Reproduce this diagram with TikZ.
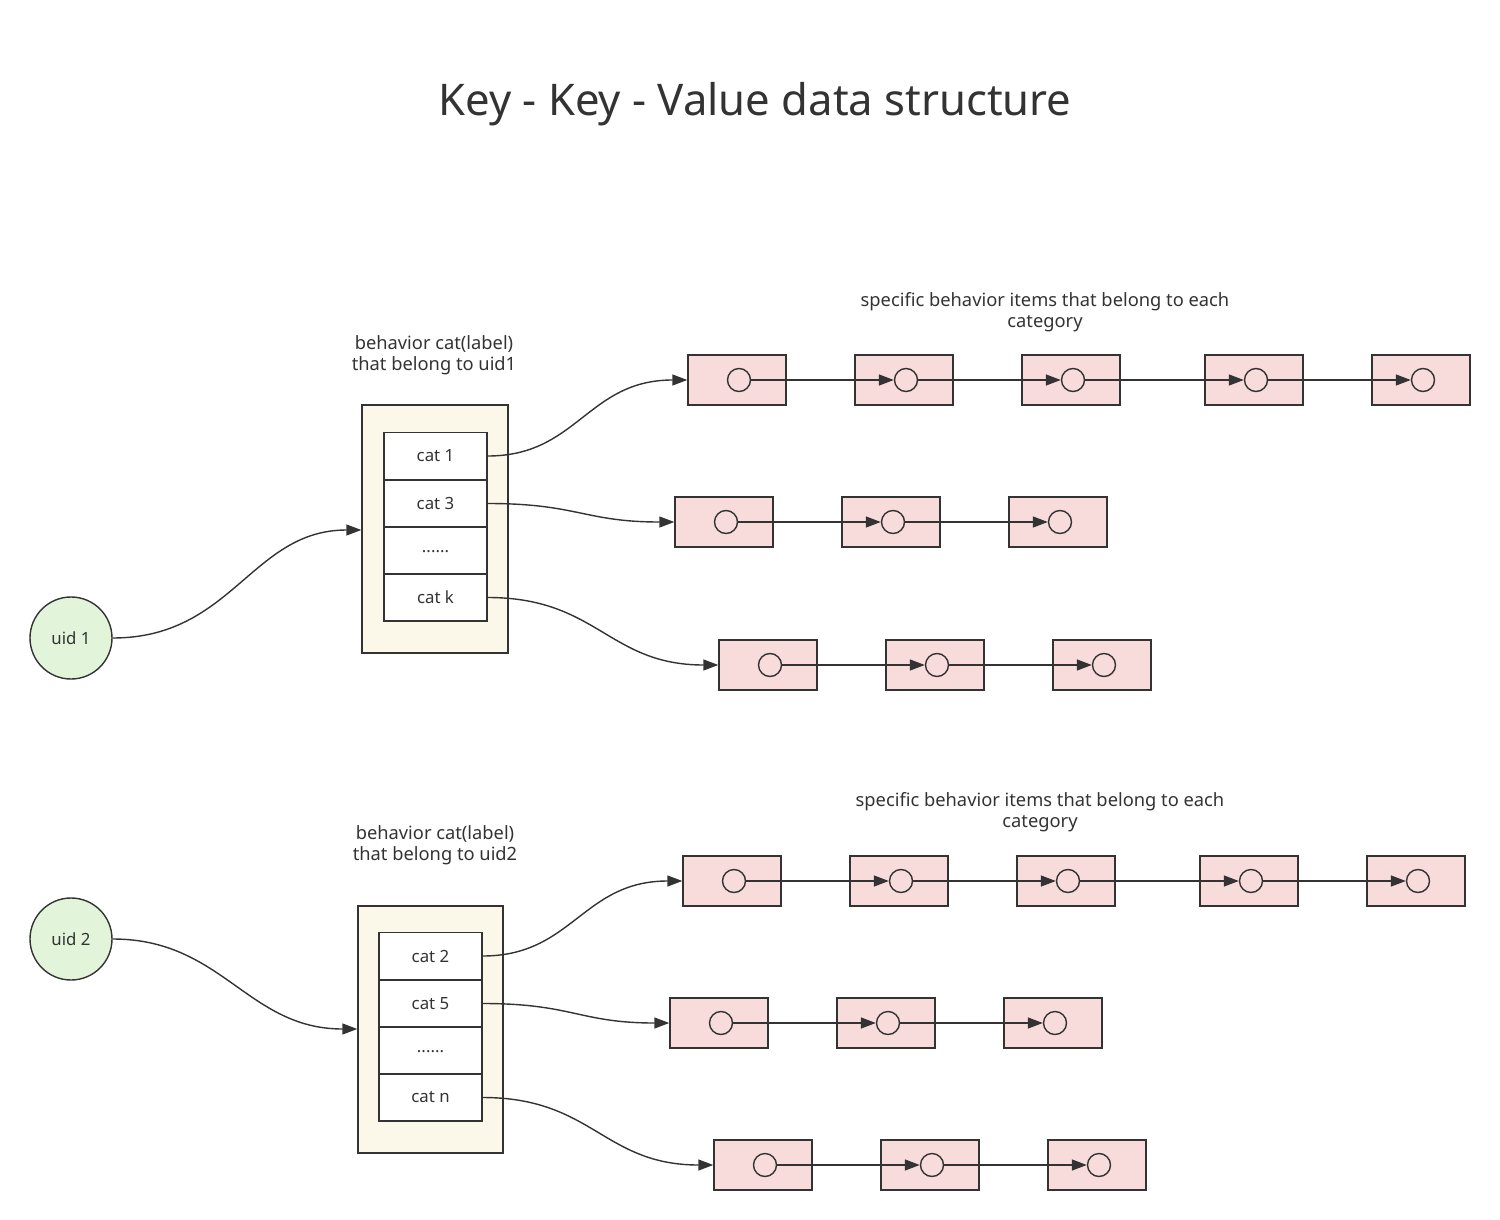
\documentclass[tikz,border=0pt]{standalone}
\usepackage{fontspec}
\setmainfont{Noto Sans}
\usetikzlibrary{arrows.meta}
\definecolor{ln}{HTML}{333333}
\definecolor{pinkf}{HTML}{F8DCDC}
\definecolor{yelf}{HTML}{FBF8EA}
\definecolor{grnf}{HTML}{E2F5DA}
\tikzset{
  ln/.style={draw=ln, line width=1.4pt},
  itembox/.style={ln, fill=pinkf, minimum width=98pt, minimum height=50pt, inner sep=0pt},
  dot/.style={ln, circle, minimum size=23pt, inner sep=0pt},
  outerbox/.style={ln, fill=yelf, inner sep=0pt},
  cell/.style={ln, fill=white, minimum width=103pt, minimum height=47pt, inner sep=0pt, font=\fontsize{16.8}{20}\selectfont, text=ln},
  uid/.style={ln, fill=grnf, circle, minimum size=82pt, inner sep=0pt, font=\fontsize{16.8}{20}\selectfont, text=ln},
  lbl/.style={align=center, font=\fontsize{18.3}{21.5}\selectfont, text=ln},
  conn/.style={draw=ln, line width=1.4pt, -{Triangle[length=15pt,width=11pt]}},
}
\begin{document}
\begin{tikzpicture}[x=1pt,y=-1pt]
\useasboundingbox (0,0) rectangle (1500,1220);
\node[font=\fontsize{43.6}{50}\selectfont, text=ln] (title) at (755,104) {Key - Key - Value data structure};

% ===== upper group =====
\node[lbl] (lab1) at (434,355) {behavior cat(label)\\that belong to uid1};
\node[lbl] (spec1) at (1045,312) {specific behavior items that belong to each\\category};
\node[outerbox, minimum width=146pt, minimum height=248pt] (ob1) at (435,529) {};
\node[cell] (c1) at (435.5,456) {cat 1};
\node[cell] (c3) at (435.5,503.5) {cat 3};
\node[cell] (cd1) at (435.5,550.5) {\raisebox{-0.25em}{......}};
\node[cell] (ck) at (435.5,597.5) {cat k};
\node[uid] (u1) at (71,638) {uid 1};

% row 1
\foreach \i/\x in {1/739,2/906,3/1073,4/1256,5/1423}{
  \node[itembox] (a\i) at (\x-2,380) {};
  \node[dot] (ad\i) at (\x,380) {};
}
% row 2
\foreach \i/\x in {1/726,2/893,3/1060}{
  \node[itembox] (b\i) at (\x-2,522) {};
  \node[dot] (bd\i) at (\x,522) {};
}
% row 3
\foreach \i/\x in {1/770,2/937,3/1104}{
  \node[itembox] (k\i) at (\x-2,665) {};
  \node[dot] (kd\i) at (\x,665) {};
}
\foreach \i/\j in {1/2,2/3,3/4,4/5}{\draw[conn] (ad\i.east) -- (ad\j.west);}
\foreach \i/\j in {1/2,2/3}{\draw[conn] (bd\i.east) -- (bd\j.west);}
\foreach \i/\j in {1/2,2/3}{\draw[conn] (kd\i.east) -- (kd\j.west);}

\draw[conn] (u1.east) .. controls +(120,0) and +(-110,0) .. (ob1.west |- 0,530);
\draw[conn] (c1.east) .. controls +(90,0) and +(-100,0) .. (a1.west);
\draw[conn] (c3.east) .. controls +(90,0) and +(-90,0) .. (b1.west);
\draw[conn] (ck.east) .. controls +(110,0) and +(-110,0) .. (k1.west);

% ===== lower group =====
\node[lbl] (lab2) at (435,845) {behavior cat(label)\\that belong to uid2};
\node[lbl] (spec2) at (1040,812) {specific behavior items that belong to each\\category};
\node[outerbox, minimum width=145pt, minimum height=247pt] (ob2) at (430.5,1029.5) {};
\node[cell] (e2) at (430.5,956) {cat 2};
\node[cell] (e5) at (430.5,1003.5) {cat 5};
\node[cell] (ed2) at (430.5,1050.5) {\raisebox{-0.25em}{......}};
\node[cell] (en) at (430.5,1097.5) {cat n};
\node[uid] (u2) at (71,939) {uid 2};

\foreach \i/\x in {1/734,2/901,3/1068,4/1251,5/1418}{
  \node[itembox] (p\i) at (\x-2,881) {};
  \node[dot] (pd\i) at (\x,881) {};
}
\foreach \i/\x in {1/721,2/888,3/1055}{
  \node[itembox] (q\i) at (\x-2,1023) {};
  \node[dot] (qd\i) at (\x,1023) {};
}
\foreach \i/\x in {1/765,2/932,3/1099}{
  \node[itembox] (r\i) at (\x-2,1165) {};
  \node[dot] (rd\i) at (\x,1165) {};
}
\foreach \i/\j in {1/2,2/3,3/4,4/5}{\draw[conn] (pd\i.east) -- (pd\j.west);}
\foreach \i/\j in {1/2,2/3}{\draw[conn] (qd\i.east) -- (qd\j.west);}
\foreach \i/\j in {1/2,2/3}{\draw[conn] (rd\i.east) -- (rd\j.west);}

\draw[conn] (u2.east) .. controls +(110,0) and +(-110,0) .. (ob2.west |- 0,1029);
\draw[conn] (e2.east) .. controls +(90,0) and +(-100,0) .. (p1.west);
\draw[conn] (e5.east) .. controls +(90,0) and +(-90,0) .. (q1.west);
\draw[conn] (en.east) .. controls +(110,0) and +(-110,0) .. (r1.west);
\end{tikzpicture}
\end{document}
